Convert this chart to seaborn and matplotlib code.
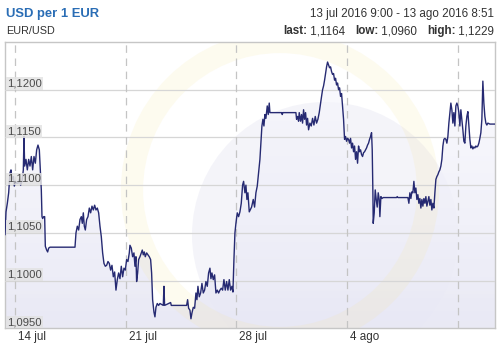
import numpy as np
import pandas as pd
import matplotlib
matplotlib.use("Agg")
import matplotlib.pyplot as plt
import matplotlib.dates as mdates
import matplotlib.patches as mpatches
import seaborn as sns

# ---------------- data ----------------
start = "2016-07-13 09:00"
end = "2016-08-13 08:51"
hours = [
    0.0, 1.52, 3.54, 5.56, 7.59, 9.11, 10.62, 12.65, 14.16, 16.19, 17.70, 19.73, 21.75, 23.77, 25.80,
    27.82, 28.83, 29.85, 31.87, 33.89, 35.92, 37.94, 39.96, 41.99, 44.01, 46.04, 48.06, 50.08, 52.11,
    53.62, 55.14, 56.15, 57.16, 58.68, 60.20, 61.21, 63.23, 64.75, 66.27, 68.29, 106.24, 107.76,
    109.78, 111.80, 113.83, 115.85, 117.37, 118.89, 120.40, 121.92, 123.94, 125.97, 127.99, 130.01,
    132.04, 134.06, 136.08, 138.11, 140.13, 142.15, 144.18, 146.20, 148.22, 150.25, 152.27, 154.29,
    156.31, 158.34, 160.36, 162.38, 164.41, 166.43, 168.45, 170.48, 172.50, 174.52, 176.55, 178.57,
    180.59, 182.62, 184.64, 186.66, 188.69, 189.70, 191.72, 193.74, 195.77, 197.28, 198.80, 199.81,
    201.33, 202.85, 204.87, 206.90, 208.41, 209.93, 211.45, 212.96, 214.99, 217.01, 219.03, 221.06,
    222.57, 224.09, 226.11, 227.63, 229.15, 231.17, 233.19, 235.23, 240.29, 241.30, 242.31, 251.42,
    252.43, 275.70, 277.22, 278.74, 280.76, 282.28, 283.79, 285.82, 287.84, 289.86, 291.38, 292.90,
    294.92, 296.95, 298.97, 300.99, 303.01, 305.04, 307.06, 309.08, 311.11, 312.62, 314.14, 316.17,
    318.19, 320.21, 322.24, 324.26, 326.28, 328.31, 330.33, 332.35, 334.38, 336.40, 338.42, 340.45,
    342.47, 344.49, 346.01, 347.53, 349.05, 350.56, 352.59, 354.61, 356.63, 358.66, 360.68, 362.20,
    364.22, 365.74, 367.26, 368.78, 370.80, 374.33, 376.86, 378.88, 380.91, 382.93, 384.95, 386.98,
    388.49, 390.01, 391.53, 393.05, 394.57, 396.08, 398.11, 399.62, 401.14, 402.15, 404.68, 419.86,
    420.87, 421.88, 441.61, 442.63, 444.14, 445.66, 446.67, 448.70, 450.21, 451.73, 453.25, 454.77,
    456.29, 457.80, 459.32, 460.84, 462.86, 464.89, 466.91, 468.93, 470.96, 472.98, 475.00, 477.03,
    479.05, 480.57, 482.09, 483.60, 485.12, 486.64, 488.16, 489.67, 491.19, 492.71, 494.22, 495.74,
    497.26, 498.78, 500.29, 501.81, 503.33, 504.85, 506.37, 507.88, 509.40, 510.92, 512.44, 513.95,
    515.47, 516.99, 518.51, 520.02, 521.54, 523.06, 524.58, 526.10, 527.61, 529.13, 530.65, 532.17,
    533.69, 535.20, 536.72, 538.24, 539.76, 541.28, 542.79, 544.31, 545.83, 547.35, 548.87, 550.38,
    551.90, 553.42, 554.94, 556.45, 557.47, 558.48, 558.98, 560.50, 562.02, 563.54, 565.05, 566.57,
    568.09, 569.10, 570.62, 572.14, 574.16, 594.40, 595.41, 596.42, 611.60, 613.12, 614.63, 616.15,
    617.67, 619.19, 620.70, 622.22, 623.74, 625.26, 626.78, 628.29, 629.81, 631.33, 632.85, 634.36,
    635.88, 637.40, 638.92, 640.43, 641.95, 643.47, 644.99, 646.51, 648.02, 649.54, 651.06, 652.58,
    654.10, 655.61, 657.13, 658.65, 660.17, 661.68, 663.20, 664.72, 666.24, 667.75, 669.27, 670.79,
    672.31, 673.82, 675.34, 676.86, 678.38, 679.89, 681.41, 682.93, 684.45, 685.96, 687.48, 689.00,
    690.52, 692.03, 693.55, 695.07, 696.59, 698.11, 699.62, 701.14, 702.66, 704.18, 705.69, 707.21,
    708.73, 710.25, 711.76, 713.28, 714.80, 716.32, 717.84, 719.35, 720.87, 722.39, 723.91, 725.42,
    726.94, 728.46, 729.98, 731.49, 733.01, 736.05, 743.85,
]
rates = [
    1.1048, 1.1072, 1.1081, 1.1092, 1.1113, 1.1116, 1.1106, 1.1109, 1.1099, 1.1104, 1.1102, 1.1102, 1.1106, 1.1100, 1.1104,
    1.1116, 1.1151, 1.1120, 1.1127, 1.1116, 1.1127, 1.1120, 1.1130, 1.1116, 1.1130, 1.1123, 1.1137, 1.1142, 1.1137,
    1.1116, 1.1095, 1.1067, 1.1065, 1.1067, 1.1067, 1.1036, 1.1032, 1.1030, 1.1034, 1.1035, 1.1035, 1.1050,
    1.1057, 1.1053, 1.1064, 1.1067, 1.1060, 1.1071, 1.1057, 1.1053, 1.1064, 1.1067, 1.1076, 1.1071,
    1.1078, 1.1074, 1.1079, 1.1074, 1.1076, 1.1071, 1.1057, 1.1046, 1.1029, 1.1018, 1.1015, 1.1016,
    1.1020, 1.1018, 1.1011, 1.1016, 1.1004, 1.1009, 1.0990, 1.1001, 1.1008, 1.1002, 1.1015, 1.1004,
    1.1013, 1.1011, 1.1022, 1.1020, 1.1029, 1.1037, 1.1034, 1.1025, 1.1029, 1.1015, 1.1025, 1.0999,
    1.1008, 1.1022, 1.1025, 1.1029, 1.1032, 1.1027, 1.1030, 1.1025, 1.1029, 1.1027, 1.1025, 1.1022,
    1.1008, 1.0980, 1.0967, 1.0962, 1.0972, 1.0976, 1.0974, 1.0976, 1.0974, 1.0994, 1.0974, 1.0977,
    1.0974, 1.0974, 1.0980, 1.0971, 1.0969, 1.0960, 1.0966, 1.0972, 1.0971, 1.0987, 1.0980, 1.0994,
    1.0983, 1.0987, 1.0997, 1.0987, 1.0990, 1.0999, 1.0994, 1.1008, 1.1013, 1.1002, 1.1008, 1.1001,
    1.1006, 1.0987, 1.0990, 1.0987, 1.0990, 1.0992, 1.0990, 1.1001, 1.0990, 1.0999, 1.0990, 1.1001,
    1.0990, 1.0994, 1.0988, 1.1022, 1.1050, 1.1060, 1.1071, 1.1067, 1.1072, 1.1081, 1.1100, 1.1104,
    1.1092, 1.1100, 1.1085, 1.1092, 1.1072, 1.1077, 1.1085, 1.1077, 1.1092, 1.1099, 1.1113, 1.1127,
    1.1144, 1.1162, 1.1169, 1.1162, 1.1174, 1.1170, 1.1183, 1.1174, 1.1186, 1.1176, 1.1176, 1.1176,
    1.1174, 1.1176, 1.1176, 1.1169, 1.1172, 1.1167, 1.1176, 1.1167, 1.1174, 1.1165, 1.1179, 1.1169,
    1.1176, 1.1163, 1.1170, 1.1158, 1.1165, 1.1162, 1.1170, 1.1163, 1.1172, 1.1165, 1.1169, 1.1176,
    1.1186, 1.1193, 1.1200, 1.1204, 1.1210, 1.1217, 1.1224, 1.1229, 1.1226, 1.1223, 1.1224, 1.1219,
    1.1216, 1.1217, 1.1210, 1.1212, 1.1205, 1.1207, 1.1200, 1.1202, 1.1193, 1.1196, 1.1183, 1.1169,
    1.1148, 1.1151, 1.1146, 1.1149, 1.1148, 1.1144, 1.1149, 1.1139, 1.1144, 1.1135, 1.1141, 1.1127,
    1.1135, 1.1123, 1.1141, 1.1135, 1.1137, 1.1132, 1.1130, 1.1134, 1.1135, 1.1137, 1.1139, 1.1142,
    1.1144, 1.1148, 1.1151, 1.1155, 1.1137, 1.1092, 1.1060, 1.1071, 1.1095, 1.1085, 1.1077, 1.1092,
    1.1085, 1.1067, 1.1088, 1.1086, 1.1087, 1.1087, 1.1088, 1.1087, 1.1087, 1.1081, 1.1092, 1.1086,
    1.1093, 1.1092, 1.1104, 1.1092, 1.1097, 1.1085, 1.1090, 1.1081, 1.1086, 1.1076, 1.1085, 1.1078,
    1.1086, 1.1081, 1.1088, 1.1078, 1.1083, 1.1088, 1.1079, 1.1085, 1.1074, 1.1081, 1.1076, 1.1092,
    1.1106, 1.1109, 1.1111, 1.1114, 1.1116, 1.1120, 1.1127, 1.1141, 1.1148, 1.1149, 1.1148, 1.1144,
    1.1151, 1.1165, 1.1176, 1.1186, 1.1179, 1.1165, 1.1176, 1.1162, 1.1183, 1.1186, 1.1183, 1.1176,
    1.1162, 1.1179, 1.1169, 1.1158, 1.1146, 1.1144, 1.1162, 1.1172, 1.1177, 1.1162, 1.1148, 1.1139,
    1.1141, 1.1138, 1.1140, 1.1139, 1.1141, 1.1140, 1.1141, 1.1144, 1.1149, 1.1155, 1.1169, 1.1209,
    1.1186, 1.1172, 1.1165, 1.1163, 1.1165, 1.1164, 1.1164,
]
week_ticks = ["2016-07-14", "2016-07-21", "2016-07-28", "2016-08-04", "2016-08-11"]
week_labels = ["14 jul", "21 jul", "28 jul", "4 ago", ""]
y_ticks = [1.0950, 1.1000, 1.1050, 1.1100, 1.1150, 1.1200]
y_labels = ["1,0950", "1,1000", "1,1050", "1,1100", "1,1150", "1,1200"]
title = "USD per 1 EUR"
subtitle = "EUR/USD"
period = "13 jul 2016 9:00 - 13 ago 2016 8:51"
stats = [("last:", "1,1164"), ("low:", "1,0960"), ("high:", "1,1229")]

# ---------------- figure ----------------
sns.set_theme(style="white")
plt.rcParams["font.family"] = ["Liberation Sans", "DejaVu Sans"]

W, H = 500, 347
fig = plt.figure(figsize=(W / 100, H / 100), dpi=100)
fig.patch.set_facecolor("white")
ax = fig.add_axes([5 / W, 1 - 328.3 / H, 490 / W, 286.3 / H])
ax.set_facecolor("white")

df = pd.DataFrame({
    "time": pd.Timestamp(start) + pd.to_timedelta(hours, unit="h"),
    "rate": rates,
})

ymin, ymax = 1.0950, 1.1250
x0, x1 = pd.Timestamp(start), pd.Timestamp(end)
ax.set_xlim(x0, x1)
ax.set_ylim(ymin, ymax)

# faint watermark: lavender disc + pale yellow ring
disc = mpatches.Circle((3.25, (H - 235) / 100), 1.33, transform=fig.dpi_scale_trans,
                       fc="#d8d8ec", ec="none", alpha=0.28, zorder=0.5)
ax.add_artist(disc)
disc.set_clip_path(ax.patch)
ring = mpatches.Circle((2.80, (H - 190) / 100), 1.48, transform=fig.dpi_scale_trans,
                       fill=False, ec="#f6e7a0", lw=16, alpha=0.16, zorder=2)
ax.add_artist(ring)
ring.set_clip_path(ax.patch)

# gradient fill under the curve
poly = ax.fill_between(df["time"], df["rate"], ymin, facecolor="none", edgecolor="none", zorder=1)
grad = np.linspace(0, 1, 256).reshape(-1, 1)
cmap = matplotlib.colors.LinearSegmentedColormap.from_list(
    "g", [(0.91, 0.91, 0.96, 0.95), (0.975, 0.975, 0.995, 0.6)])
im = ax.imshow(grad, cmap=cmap, aspect="auto", origin="lower",
               extent=[mdates.date2num(x0), mdates.date2num(x1), ymin, ymax], zorder=1)
im.set_clip_path(poly.get_paths()[0], transform=ax.transData)
ax.set_xlim(x0, x1)
ax.set_ylim(ymin, ymax)

# grid
for yv in y_ticks[1:]:
    ax.axhline(yv, color="#d6d6d6", lw=0.9, zorder=3)
for d in week_ticks:
    ax.axvline(pd.Timestamp(d), color="#c4c4c4", lw=0.9, ls=(0, (6, 4.5)), zorder=3)

sns.lineplot(data=df, x="time", y="rate", ax=ax, color="#262a72", lw=1.0, zorder=5)

ax.set_xticks([])
ax.set_yticks([])
ax.set_xlabel("")
ax.set_ylabel("")
for s in ax.spines.values():
    s.set_color("#c6c6c6")
    s.set_linewidth(1.0)
    s.set_visible(True)

# y labels inside the plot
for yv, lab in zip(y_ticks, y_labels):
    ax.annotate(lab, xy=(0, yv), xycoords=("axes fraction", "data"),
                xytext=(2.0, 1.2), textcoords="offset pixels", ha="left", va="bottom",
                fontsize=8.1, color="#4a4a4a", zorder=6,
                bbox=dict(boxstyle="square,pad=0.12", fc="#e3e3e3", ec="none", alpha=0.85))

# x labels (left aligned next to the week lines)
for d, lab in zip(week_ticks, week_labels):
    ax.annotate(lab, xy=(pd.Timestamp(d), 0), xycoords=("data", "axes fraction"),
                xytext=(3, -11.7), textcoords="offset pixels", ha="left", va="baseline",
                fontsize=8.4, color="#333333")

# header
fig.text(6 / W, 1 - 17.5 / H, title, ha="left", va="baseline", fontsize=9.4,
         fontweight="bold", color="#2a6db5")
fig.text(6 / W, 1 - 34.3 / H, subtitle, ha="left", va="baseline", fontsize=7.8, color="#333333")
fig.text(494.3 / W, 1 - 17.3 / H, period, ha="right", va="baseline", fontsize=8.4, color="#333333")

# stats line built right to left
renderer = fig.canvas.get_renderer()
xr = 494.3
pieces = []
for i, (k, v) in enumerate(stats):
    pieces.append((k, "bold"))
    pieces.append((" " + v + ("   " if i < len(stats) - 1 else ""), "normal"))
for txt, wt in reversed(pieces):
    t = fig.text(xr / W, 1 - 34.3 / H, txt, ha="right", va="baseline", fontsize=8.4,
                 fontweight=wt, color="#333333")
    bb = t.get_window_extent(renderer=renderer)
    xr -= bb.width

fig.savefig("out.png", dpi=100)
